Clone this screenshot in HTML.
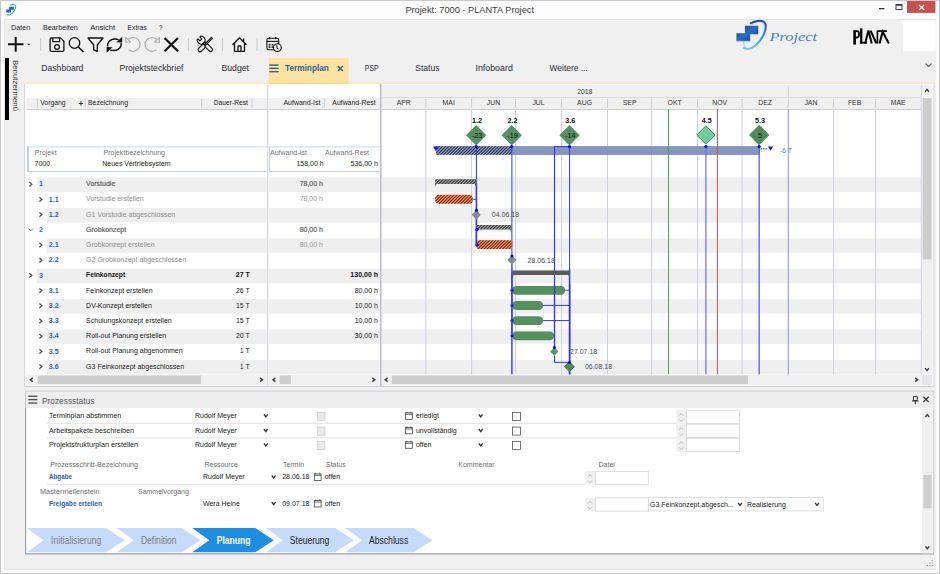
<!DOCTYPE html>
<html><head><meta charset="utf-8"><title>PLANTA Project</title>
<style>
html,body{margin:0;padding:0;background:#fcfcfc;}
body{width:940px;height:574px;overflow:hidden;}
svg{display:block;font-family:"Liberation Sans",sans-serif;}
</style></head>
<body>
<svg width="940" height="574" viewBox="0 0 940 574">
<defs>
<pattern id="hOr" patternUnits="userSpaceOnUse" width="2.0" height="2.0"><rect width="2.0" height="2.0" fill="#fb9062"/><path d="M0 2.0 L2.0 0 M-1 1 L1 -1 M1.0 3.0 L3.0 1.0" stroke="#6e3219" stroke-width="0.72"/></pattern>
<pattern id="hGr" patternUnits="userSpaceOnUse" width="2.25" height="2.25"><rect width="2.25" height="2.25" fill="#555555"/><path d="M0 2.25 L2.25 0 M-1 1 L1 -1 M1.25 3.25 L3.25 1.25" stroke="#cdcdcd" stroke-width="0.5"/></pattern>
<pattern id="hGl" patternUnits="userSpaceOnUse" width="2.25" height="2.25"><path d="M0 2.25 L2.25 0 M-1 1 L1 -1 M1.25 3.25 L3.25 1.25" stroke="#e9e9e9" stroke-width="0.5"/></pattern>
<pattern id="hBl" patternUnits="userSpaceOnUse" width="2.2" height="2.2"><rect width="2.2" height="2.2" fill="#8e9fc8"/><path d="M0 2.2 L2.2 0 M-1 1 L1 -1 M1.2000000000000002 3.2 L3.2 1.2000000000000002" stroke="#3a4258" stroke-width="0.8"/></pattern>
<linearGradient id="lgB" x1="0" y1="0" x2="1" y2="1"><stop offset="0" stop-color="#163a78"/><stop offset="0.5" stop-color="#2d6cc4"/><stop offset="1" stop-color="#143472"/></linearGradient>
<linearGradient id="ringG" x1="0" y1="0" x2="0" y2="1"><stop offset="0" stop-color="#1f4fa0"/><stop offset="0.55" stop-color="#2f8fe0"/><stop offset="1" stop-color="#5cd0f8"/></linearGradient>
</defs>
<rect x="0.00" y="0.00" width="940.00" height="574.00" fill="#fcfcfc" />
<rect x="0.5" y="0.5" width="939" height="573" fill="none" stroke="#c9c9c9" stroke-width="1"/>
<rect x="4.00" y="19.00" width="932.00" height="550.50" fill="#f0f0f0" />
<line x1="4.50" y1="19.00" x2="4.50" y2="569.50" stroke="#e2e2e2" stroke-width="1" />
<line x1="4.00" y1="19.40" x2="936.00" y2="19.40" stroke="#e1e1e1" stroke-width="0.9" />
<line x1="4.00" y1="569.50" x2="936.00" y2="569.50" stroke="#e2e2e2" stroke-width="1" />
<text x="405.40" y="12.90" font-size="9.8" fill="#404040" font-weight="normal" text-anchor="start" textLength="128.60" lengthAdjust="spacingAndGlyphs" >Projekt: 7000 - PLANTA Project</text>
<path d="M6.3 9.4 H9.1 V6.8 H13.8 V9.7 H11 V12.4 H6.3 Z" fill="#1565c8" stroke="none" stroke-width="1" />
<path d="M10.2 5.2 C12.6 3.9 15.4 4.1 15.7 6.3 C16 9 13.2 13.3 9.8 14.7 C8.6 15.2 7.8 15 7.4 14.2" fill="none" stroke="#3aa9ea" stroke-width="1.1" />
<rect x="879.00" y="8.00" width="5.40" height="1.30" fill="#333" />
<rect x="896" y="4.5" width="6" height="5" fill="none" stroke="#333" stroke-width="0.9"/>
<rect x="896.00" y="4.30" width="6.00" height="1.40" fill="#333" />
<rect x="907.00" y="1.00" width="28.40" height="11.90" fill="#c75050" />
<path d="M919 5 L924.2 9.9 M924.2 5 L919 9.9" fill="none" stroke="#fff" stroke-width="1.2" />
<rect x="896.00" y="20.00" width="39.50" height="31.00" fill="#ffffff" />
<path d="M880 19 L896 19 Q902 19 903 26 L903 52 L880 52 Z" fill="#f0f0f0" stroke="none" stroke-width="1" />
<text x="11.00" y="29.70" font-size="7.8" fill="#1e1e2e" font-weight="normal" text-anchor="start" textLength="19.20" lengthAdjust="spacingAndGlyphs" >Daten</text>
<text x="43.00" y="29.70" font-size="7.8" fill="#1e1e2e" font-weight="normal" text-anchor="start" textLength="34.80" lengthAdjust="spacingAndGlyphs" >Bearbeiten</text>
<text x="90.20" y="29.70" font-size="7.8" fill="#1e1e2e" font-weight="normal" text-anchor="start" textLength="24.90" lengthAdjust="spacingAndGlyphs" >Ansicht</text>
<text x="127.60" y="29.70" font-size="7.8" fill="#1e1e2e" font-weight="normal" text-anchor="start" textLength="19.00" lengthAdjust="spacingAndGlyphs" >Extras</text>
<text x="158.90" y="29.70" font-size="7.8" fill="#1e1e2e" font-weight="normal" text-anchor="start" textLength="3.50" lengthAdjust="spacingAndGlyphs" >?</text>
<path d="M8 44.3 H23.5 M15.7 37 V51.8" fill="none" stroke="#111" stroke-width="2" />
<path d="M27.3 43.8 h3.2 l-1.6 1.7 z" fill="#333" stroke="none" stroke-width="1" />
<line x1="40.70" y1="38.00" x2="40.70" y2="51.00" stroke="#c8c8c8" stroke-width="1" />
<path d="M51.5 37.9 h9 l3.4 3.4 v8.6 q0 1.4 -1.4 1.4 h-11 q-1.4 0 -1.4 -1.4 v-10.6 q0 -1.4 1.4 -1.4 z" fill="none" stroke="#111" stroke-width="1.3" stroke-linejoin="round"/>
<path d="M52.8 38 v3.6 h6.8 v-3.6" fill="none" stroke="#111" stroke-width="1.2" />
<circle cx="57" cy="47.1" r="2.4" fill="none" stroke="#111" stroke-width="1.25"/>
<circle cx="74.5" cy="43" r="5.3" fill="none" stroke="#111" stroke-width="1.3"/>
<path d="M78.3 47 L83.5 52" fill="none" stroke="#111" stroke-width="1.5" />
<path d="M88 38 H103 L97.3 45 V51.5 L93.7 49.8 V45 Z" fill="none" stroke="#111" stroke-width="1.3" stroke-linejoin="round"/>
<path d="M107.6 46.5 C107.2 41 112.5 37.5 118.6 39.6" fill="none" stroke="#111" stroke-width="1.4" />
<path d="M121.2 43 C121.6 48.5 116.3 52 110.2 49.9" fill="none" stroke="#111" stroke-width="1.4" />
<path d="M116.3 42.3 L122.2 36.8 L122.2 42.6 Z" fill="#111" stroke="none" stroke-width="1" />
<path d="M112.5 47.2 L106.6 52.7 L106.6 46.9 Z" fill="#111" stroke="none" stroke-width="1" />
<path d="M128.6 39.2 A6.9 6.9 0 1 1 128.6 49.6" fill="none" stroke="#a9a9a9" stroke-width="1.2" />
<path d="M125.6 37.4 L125.7 42.3 L130.5 42 Z" fill="none" stroke="#a9a9a9" stroke-width="1.1" stroke-linejoin="round"/>
<path d="M156.5 39.2 A6.9 6.9 0 1 0 156.5 49.6" fill="none" stroke="#a9a9a9" stroke-width="1.2" />
<path d="M159.5 37.4 L159.4 42.3 L154.6 42 Z" fill="none" stroke="#a9a9a9" stroke-width="1.1" stroke-linejoin="round"/>
<path d="M164.5 38 L178 51.3 M178 38 L164.5 51.3" fill="none" stroke="#111" stroke-width="2.2" />
<line x1="188.40" y1="38.00" x2="188.40" y2="51.00" stroke="#c8c8c8" stroke-width="1" />
<g transform="translate(205.4,44.4) rotate(-45)" fill="#f0f0f0" stroke="#111" stroke-width="1.1" stroke-linejoin="round"><rect x="-1.9" y="-2.5" width="3.8" height="11.8" rx="1.9"/><path d="M-1.9 -2.5 C-4.2 -3.4 -4.6 -7 -2.6 -9.2 L-1.3 -9.2 L-1.3 -6.4 L1.3 -6.4 L1.3 -9.2 L2.6 -9.2 C4.6 -7 4.2 -3.4 1.9 -2.5 Z"/></g>
<g transform="translate(205.4,44.4) rotate(45)" fill="#f0f0f0" stroke="#111" stroke-width="1.1" stroke-linejoin="round"><path d="M-0.7 -9.3 L0.7 -9.3 L0.7 0.5 L-0.7 0.5 Z"/><rect x="-2" y="1.2" width="4" height="8.3" rx="2"/></g>
<line x1="222.50" y1="38.00" x2="222.50" y2="51.00" stroke="#c8c8c8" stroke-width="1" />
<path d="M232.5 44.8 L239.5 37.8 L246.5 44.8 M234.5 43 V51.3 H244.5 V43 M238 51.3 V46.8 Q238 46 238.8 46 H240.2 Q241 46 241 46.8 V51.3 M243.6 41.8 V38.6" fill="none" stroke="#111" stroke-width="1.3" stroke-linejoin="round"/>
<line x1="257.00" y1="38.00" x2="257.00" y2="51.00" stroke="#c8c8c8" stroke-width="1" />
<rect x="266.9" y="38.3" width="11.8" height="11.4" rx="1.6" fill="none" stroke="#111" stroke-width="1.1"/>
<line x1="266.90" y1="41.40" x2="278.70" y2="41.40" stroke="#111" stroke-width="1.1" />
<path d="M269.6 36.9 v2.4 M275.6 36.9 v2.4" fill="none" stroke="#111" stroke-width="1.2" />
<rect x="268.60" y="43.90" width="1.90" height="1.70" fill="#333" />
<rect x="268.60" y="46.30" width="1.90" height="1.70" fill="#333" />
<rect x="271.60" y="43.90" width="1.90" height="1.70" fill="#333" />
<rect x="271.60" y="46.30" width="1.90" height="1.70" fill="#333" />
<circle cx="277.4" cy="47.6" r="3.9" fill="#f0f0f0" stroke="#111" stroke-width="1.1"/>
<path d="M276.9 45.2 V48.2 L278.7 49.1" fill="none" stroke="#111" stroke-width="1.0" />
<ellipse cx="754" cy="35.3" rx="8.3" ry="15.2" transform="rotate(30 754 35.3)" fill="none" stroke="#a9bcd2" stroke-width="0.7"/>
<path d="M750 23.8 C754 21 761 19.6 764.3 22.3 C767.6 25.3 765.2 34.5 759.6 41.2 C755 46.8 748.5 51 743.2 47.6" fill="none" stroke="url(#ringG)" stroke-width="2"/>
<path d="M736.4 33.3 H744.9 V25.8 H758.3 V34.2 H750.2 V41.2 H736.4 Z" fill="url(#lgB)" stroke="none" stroke-width="1" />
<path d="M737.2 41.2 H750.2 M750.8 34.4 H758.3" fill="none" stroke="#aac4e4" stroke-width="0.8" />
<text x="769.40" y="41.20" font-size="11.8" fill="#4a80c6" font-weight="normal" text-anchor="start" textLength="47.80" lengthAdjust="spacingAndGlyphs" font-style="italic" font-family="Liberation Serif">Project</text>
<g fill="none" stroke="#000" stroke-linejoin="miter"><path d="M854.6 30.2 V44.6" stroke-width="2.6"/><path d="M855.5 31.1 H857.2 Q859 31.1 859 34.3 Q859 37.5 857.2 37.5 H855.5" stroke-width="1.8"/><path d="M861.2 28.4 V43.4" stroke-width="2.3"/><path d="M860.1 42.7 H867" stroke-width="1.8"/><path d="M865.2 43.6 L868.4 30.6 L871.8 43.6" stroke-width="2"/><path d="M870.6 30.6 L876.3 43.4" stroke-width="2"/><path d="M877.4 30.6 V43.6" stroke-width="1.6"/><path d="M877.6 31.1 H887" stroke-width="1.7"/><path d="M879.6 43.6 L882.6 31.8 L888.9 43.5" stroke-width="2"/></g>
<path d="M925.8 63.6 L928.7 66.5 L931.6 63.6" fill="none" stroke="#555" stroke-width="1.1" />
<rect x="5.00" y="58.00" width="4.00" height="62.00" fill="#000" />
<text font-size="7.2" fill="#333" transform="translate(12.6,60) rotate(90)" textLength="51" lengthAdjust="spacingAndGlyphs">Benutzermenü</text>
<text x="41.30" y="70.60" font-size="8.6" fill="#2b2b35" font-weight="normal" text-anchor="start" textLength="42.10" lengthAdjust="spacingAndGlyphs" >Dashboard</text>
<text x="119.40" y="70.60" font-size="8.6" fill="#2b2b35" font-weight="normal" text-anchor="start" textLength="64.00" lengthAdjust="spacingAndGlyphs" >Projektsteckbrief</text>
<text x="221.50" y="70.60" font-size="8.6" fill="#2b2b35" font-weight="normal" text-anchor="start" textLength="27.50" lengthAdjust="spacingAndGlyphs" >Budget</text>
<text x="364.80" y="70.60" font-size="8.6" fill="#2b2b35" font-weight="normal" text-anchor="start" textLength="13.90" lengthAdjust="spacingAndGlyphs" >PSP</text>
<text x="415.30" y="70.60" font-size="8.6" fill="#2b2b35" font-weight="normal" text-anchor="start" textLength="24.10" lengthAdjust="spacingAndGlyphs" >Status</text>
<text x="475.50" y="70.60" font-size="8.6" fill="#2b2b35" font-weight="normal" text-anchor="start" textLength="37.30" lengthAdjust="spacingAndGlyphs" >Infoboard</text>
<text x="549.60" y="70.60" font-size="8.6" fill="#2b2b35" font-weight="normal" text-anchor="start" textLength="38.10" lengthAdjust="spacingAndGlyphs" >Weitere ...</text>
<rect x="25.00" y="82.20" width="909.50" height="1.80" fill="#fdebbf" />
<rect x="268.70" y="58.00" width="80.00" height="26.00" fill="#fde3a1" />
<rect x="268.70" y="82.20" width="80.00" height="1.80" fill="#fdd983" />
<rect x="269.30" y="64.40" width="9.30" height="1.40" fill="#2d5f93" />
<rect x="269.30" y="67.70" width="9.30" height="1.40" fill="#2d5f93" />
<rect x="269.30" y="71.00" width="9.30" height="1.40" fill="#2d5f93" />
<text x="285.00" y="70.60" font-size="8.6" fill="#2d5f93" font-weight="bold" text-anchor="start" textLength="43.90" lengthAdjust="spacingAndGlyphs" >Terminplan</text>
<path d="M337.8 66.1 L342.8 71.1 M342.8 66.1 L337.8 71.1" fill="none" stroke="#2d5f93" stroke-width="1.4" />
<rect x="25.00" y="84.00" width="909.00" height="302.50" fill="#ffffff" />
<line x1="24.50" y1="84.00" x2="24.50" y2="386.50" stroke="#d6d6de" stroke-width="1" />
<line x1="933.80" y1="84.00" x2="933.80" y2="386.50" stroke="#d6d6de" stroke-width="1" />
<line x1="24.50" y1="386.50" x2="934.00" y2="386.50" stroke="#c9c9d0" stroke-width="1" />
<rect x="26.50" y="98.00" width="240.50" height="11.50" fill="#f0f0f0" />
<line x1="26.50" y1="109.50" x2="267.00" y2="109.50" stroke="#cfcfcf" stroke-width="1" />
<line x1="37.40" y1="99.00" x2="37.40" y2="107.50" stroke="#c8c8c8" stroke-width="0.9" />
<line x1="85.30" y1="99.00" x2="85.30" y2="107.50" stroke="#c8c8c8" stroke-width="0.9" />
<line x1="201.60" y1="99.00" x2="201.60" y2="107.50" stroke="#c8c8c8" stroke-width="0.9" />
<line x1="252.00" y1="99.00" x2="252.00" y2="107.50" stroke="#c8c8c8" stroke-width="0.9" />
<text x="40.20" y="105.20" font-size="7" fill="#222" font-weight="normal" text-anchor="start" textLength="25.50" lengthAdjust="spacingAndGlyphs" >Vorgang</text>
<path d="M78.8 103.5 h4.3 M80.95 101.35 v4.3" fill="none" stroke="#333" stroke-width="1" />
<text x="88.00" y="105.20" font-size="7" fill="#222" font-weight="normal" text-anchor="start" textLength="40.00" lengthAdjust="spacingAndGlyphs" >Bezeichnung</text>
<text x="213.70" y="105.20" font-size="7" fill="#222" font-weight="normal" text-anchor="start" textLength="34.30" lengthAdjust="spacingAndGlyphs" >Dauer-Rest</text>
<rect x="268.50" y="98.00" width="111.00" height="11.50" fill="#f0f0f0" />
<line x1="268.50" y1="109.50" x2="379.50" y2="109.50" stroke="#cfcfcf" stroke-width="1" />
<line x1="324.40" y1="99.00" x2="324.40" y2="107.50" stroke="#c8c8c8" stroke-width="0.9" />
<text x="283.40" y="105.20" font-size="7" fill="#222" font-weight="normal" text-anchor="start" textLength="37.00" lengthAdjust="spacingAndGlyphs" >Aufwand-Ist</text>
<text x="332.30" y="105.20" font-size="7" fill="#222" font-weight="normal" text-anchor="start" textLength="43.30" lengthAdjust="spacingAndGlyphs" >Aufwand-Rest</text>
<rect x="381.60" y="84.80" width="539.40" height="24.70" fill="#f0f0f0" />
<line x1="382.00" y1="97.60" x2="921.00" y2="97.60" stroke="#d8d8d8" stroke-width="0.9" />
<line x1="381.60" y1="109.50" x2="921.00" y2="109.50" stroke="#cfcfcf" stroke-width="1" />
<text x="584.80" y="93.80" font-size="6.9" fill="#333" font-weight="normal" text-anchor="middle" >2018</text>
<line x1="788.30" y1="86.00" x2="788.30" y2="97.00" stroke="#c8c8c8" stroke-width="0.9" />
<text x="403.75" y="105.20" font-size="6.9" fill="#333" font-weight="normal" text-anchor="middle" >APR</text>
<text x="448.75" y="105.20" font-size="6.9" fill="#333" font-weight="normal" text-anchor="middle" >MAI</text>
<text x="493.55" y="105.20" font-size="6.9" fill="#333" font-weight="normal" text-anchor="middle" >JUN</text>
<text x="538.55" y="105.20" font-size="6.9" fill="#333" font-weight="normal" text-anchor="middle" >JUL</text>
<text x="584.55" y="105.20" font-size="6.9" fill="#333" font-weight="normal" text-anchor="middle" >AUG</text>
<text x="629.65" y="105.20" font-size="6.9" fill="#333" font-weight="normal" text-anchor="middle" >SEP</text>
<text x="674.65" y="105.20" font-size="6.9" fill="#333" font-weight="normal" text-anchor="middle" >OKT</text>
<text x="719.75" y="105.20" font-size="6.9" fill="#333" font-weight="normal" text-anchor="middle" >NOV</text>
<text x="765.15" y="105.20" font-size="6.9" fill="#333" font-weight="normal" text-anchor="middle" >DEZ</text>
<text x="810.95" y="105.20" font-size="6.9" fill="#333" font-weight="normal" text-anchor="middle" >JAN</text>
<text x="854.60" y="105.20" font-size="6.9" fill="#333" font-weight="normal" text-anchor="middle" >FEB</text>
<text x="898.20" y="105.20" font-size="6.9" fill="#333" font-weight="normal" text-anchor="middle" >MAE</text>
<line x1="425.90" y1="99.00" x2="425.90" y2="107.80" stroke="#c6c6c6" stroke-width="0.9" />
<line x1="471.60" y1="99.00" x2="471.60" y2="107.80" stroke="#c6c6c6" stroke-width="0.9" />
<line x1="515.50" y1="99.00" x2="515.50" y2="107.80" stroke="#c6c6c6" stroke-width="0.9" />
<line x1="561.60" y1="99.00" x2="561.60" y2="107.80" stroke="#c6c6c6" stroke-width="0.9" />
<line x1="607.50" y1="99.00" x2="607.50" y2="107.80" stroke="#c6c6c6" stroke-width="0.9" />
<line x1="651.80" y1="99.00" x2="651.80" y2="107.80" stroke="#c6c6c6" stroke-width="0.9" />
<line x1="697.50" y1="99.00" x2="697.50" y2="107.80" stroke="#c6c6c6" stroke-width="0.9" />
<line x1="742.00" y1="99.00" x2="742.00" y2="107.80" stroke="#c6c6c6" stroke-width="0.9" />
<line x1="788.30" y1="99.00" x2="788.30" y2="107.80" stroke="#c6c6c6" stroke-width="0.9" />
<line x1="833.60" y1="99.00" x2="833.60" y2="107.80" stroke="#c6c6c6" stroke-width="0.9" />
<line x1="875.60" y1="99.00" x2="875.60" y2="107.80" stroke="#c6c6c6" stroke-width="0.9" />
<rect x="267.00" y="85.00" width="1.40" height="301.00" fill="#e0d8e5" />
<rect x="379.80" y="84.00" width="1.80" height="302.00" fill="#c3bcd3" />
<rect x="36.80" y="177.50" width="230.20" height="14.60" fill="#efefef" />
<rect x="268.40" y="177.50" width="111.60" height="14.60" fill="#efefef" />
<rect x="382.00" y="177.50" width="539.00" height="14.60" fill="#efefef" />
<path d="M29.3 182.0 L31.8 184.2 L29.3 186.39999999999998" fill="none" stroke="#505050" stroke-width="1.3" />
<text x="39.00" y="186.40" font-size="7.1" fill="#2a68c0" font-weight="bold" text-anchor="start" >1</text>
<text x="86.10" y="186.20" font-size="7" fill="#666666" font-weight="normal" text-anchor="start" stroke="#666666" stroke-width="0.22">Vorstudie</text>
<text x="323.00" y="186.20" font-size="7" fill="#6a6a6a" font-weight="normal" text-anchor="end" stroke="#6a6a6a" stroke-width="0.22">78,00 h</text>
<path d="M39.4 197.2 L41.9 199.39999999999998 L39.4 201.59999999999997" fill="none" stroke="#505050" stroke-width="1.3" />
<text x="48.80" y="201.60" font-size="7.1" fill="#2a68c0" font-weight="bold" text-anchor="start" >1.1</text>
<text x="86.10" y="201.40" font-size="7" fill="#8c8c8c" font-weight="normal" text-anchor="start" >Vorstudie erstellen</text>
<text x="323.00" y="201.40" font-size="7" fill="#9a9a9a" font-weight="normal" text-anchor="end" >78,00 h</text>
<rect x="46.80" y="207.90" width="220.20" height="14.60" fill="#efefef" />
<rect x="268.40" y="207.90" width="111.60" height="14.60" fill="#efefef" />
<rect x="382.00" y="207.90" width="539.00" height="14.60" fill="#efefef" />
<path d="M39.4 212.4 L41.9 214.6 L39.4 216.79999999999998" fill="none" stroke="#505050" stroke-width="1.3" />
<text x="48.80" y="216.80" font-size="7.1" fill="#2a68c0" font-weight="bold" text-anchor="start" >1.2</text>
<text x="86.10" y="216.60" font-size="7" fill="#8c8c8c" font-weight="normal" text-anchor="start" >G1 Vorstudie abgeschlossen</text>
<path d="M28.6 228.6 L30.8 230.79999999999998 L33.0 228.6" fill="none" stroke="#777" stroke-width="1" />
<text x="39.00" y="232.00" font-size="7.1" fill="#2a68c0" font-weight="bold" text-anchor="start" >2</text>
<text x="86.10" y="231.80" font-size="7" fill="#666666" font-weight="normal" text-anchor="start" stroke="#666666" stroke-width="0.22">Grobkonzept</text>
<text x="323.00" y="231.80" font-size="7" fill="#6a6a6a" font-weight="normal" text-anchor="end" stroke="#6a6a6a" stroke-width="0.22">80,00 h</text>
<rect x="46.80" y="238.30" width="220.20" height="14.60" fill="#efefef" />
<rect x="268.40" y="238.30" width="111.60" height="14.60" fill="#efefef" />
<rect x="382.00" y="238.30" width="539.00" height="14.60" fill="#efefef" />
<path d="M39.4 242.8 L41.9 245.0 L39.4 247.2" fill="none" stroke="#505050" stroke-width="1.3" />
<text x="48.80" y="247.20" font-size="7.1" fill="#2a68c0" font-weight="bold" text-anchor="start" >2.1</text>
<text x="86.10" y="247.00" font-size="7" fill="#8c8c8c" font-weight="normal" text-anchor="start" >Grobkonzept erstellen</text>
<text x="323.00" y="247.00" font-size="7" fill="#9a9a9a" font-weight="normal" text-anchor="end" >80,00 h</text>
<path d="M39.4 258.0 L41.9 260.2 L39.4 262.4" fill="none" stroke="#505050" stroke-width="1.3" />
<text x="48.80" y="262.40" font-size="7.1" fill="#2a68c0" font-weight="bold" text-anchor="start" >2.2</text>
<text x="86.10" y="262.20" font-size="7" fill="#8c8c8c" font-weight="normal" text-anchor="start" >G2 Grobkonzept abgeschlossen</text>
<rect x="36.80" y="268.70" width="230.20" height="14.60" fill="#efefef" />
<rect x="268.40" y="268.70" width="111.60" height="14.60" fill="#efefef" />
<rect x="382.00" y="268.70" width="539.00" height="14.60" fill="#efefef" />
<path d="M29.3 273.2 L31.8 275.4 L29.3 277.59999999999997" fill="none" stroke="#505050" stroke-width="1.3" />
<text x="39.00" y="277.60" font-size="7.1" fill="#2a68c0" font-weight="bold" text-anchor="start" >3</text>
<text x="86.10" y="277.40" font-size="6.7" fill="#111" font-weight="bold" text-anchor="start" >Feinkonzept</text>
<text x="249.80" y="277.40" font-size="7" fill="#111" font-weight="bold" text-anchor="end" >27 T</text>
<text x="378.00" y="277.40" font-size="7" fill="#111" font-weight="bold" text-anchor="end" >130,00 h</text>
<path d="M39.4 288.4 L41.9 290.59999999999997 L39.4 292.79999999999995" fill="none" stroke="#505050" stroke-width="1.3" />
<text x="48.80" y="292.80" font-size="7.1" fill="#2a68c0" font-weight="bold" text-anchor="start" >3.1</text>
<text x="86.10" y="292.60" font-size="7" fill="#222" font-weight="normal" text-anchor="start" >Feinkonzept erstellen</text>
<text x="249.80" y="292.60" font-size="7" fill="#222" font-weight="normal" text-anchor="end" >26 T</text>
<text x="378.00" y="292.60" font-size="7" fill="#222" font-weight="normal" text-anchor="end" >80,00 h</text>
<rect x="46.80" y="299.10" width="220.20" height="14.60" fill="#efefef" />
<rect x="268.40" y="299.10" width="111.60" height="14.60" fill="#efefef" />
<rect x="382.00" y="299.10" width="539.00" height="14.60" fill="#efefef" />
<path d="M39.4 303.6 L41.9 305.8 L39.4 308.0" fill="none" stroke="#505050" stroke-width="1.3" />
<text x="48.80" y="308.00" font-size="7.1" fill="#2a68c0" font-weight="bold" text-anchor="start" >3.2</text>
<text x="86.10" y="307.80" font-size="7" fill="#222" font-weight="normal" text-anchor="start" >DV-Konzept erstellen</text>
<text x="249.80" y="307.80" font-size="7" fill="#222" font-weight="normal" text-anchor="end" >15 T</text>
<text x="378.00" y="307.80" font-size="7" fill="#222" font-weight="normal" text-anchor="end" >10,00 h</text>
<path d="M39.4 318.79999999999995 L41.9 320.99999999999994 L39.4 323.19999999999993" fill="none" stroke="#505050" stroke-width="1.3" />
<text x="48.80" y="323.20" font-size="7.1" fill="#2a68c0" font-weight="bold" text-anchor="start" >3.3</text>
<text x="86.10" y="323.00" font-size="7" fill="#222" font-weight="normal" text-anchor="start" >Schulungskonzept erstellen</text>
<text x="249.80" y="323.00" font-size="7" fill="#222" font-weight="normal" text-anchor="end" >15 T</text>
<text x="378.00" y="323.00" font-size="7" fill="#222" font-weight="normal" text-anchor="end" >10,00 h</text>
<rect x="46.80" y="329.50" width="220.20" height="14.60" fill="#efefef" />
<rect x="268.40" y="329.50" width="111.60" height="14.60" fill="#efefef" />
<rect x="382.00" y="329.50" width="539.00" height="14.60" fill="#efefef" />
<path d="M39.4 334.0 L41.9 336.2 L39.4 338.4" fill="none" stroke="#505050" stroke-width="1.3" />
<text x="48.80" y="338.40" font-size="7.1" fill="#2a68c0" font-weight="bold" text-anchor="start" >3.4</text>
<text x="86.10" y="338.20" font-size="7" fill="#222" font-weight="normal" text-anchor="start" >Roll-out Planung erstellen</text>
<text x="249.80" y="338.20" font-size="7" fill="#222" font-weight="normal" text-anchor="end" >20 T</text>
<text x="378.00" y="338.20" font-size="7" fill="#222" font-weight="normal" text-anchor="end" >30,00 h</text>
<path d="M39.4 349.2 L41.9 351.4 L39.4 353.59999999999997" fill="none" stroke="#505050" stroke-width="1.3" />
<text x="48.80" y="353.60" font-size="7.1" fill="#2a68c0" font-weight="bold" text-anchor="start" >3.5</text>
<text x="86.10" y="353.40" font-size="7" fill="#222" font-weight="normal" text-anchor="start" >Roll-out Planung abgenommen</text>
<text x="249.80" y="353.40" font-size="7" fill="#222" font-weight="normal" text-anchor="end" >1 T</text>
<rect x="46.80" y="359.90" width="220.20" height="14.60" fill="#efefef" />
<rect x="268.40" y="359.90" width="111.60" height="14.60" fill="#efefef" />
<rect x="382.00" y="359.90" width="539.00" height="14.60" fill="#efefef" />
<path d="M39.4 364.4 L41.9 366.59999999999997 L39.4 368.79999999999995" fill="none" stroke="#505050" stroke-width="1.3" />
<text x="48.80" y="368.80" font-size="7.1" fill="#2a68c0" font-weight="bold" text-anchor="start" >3.6</text>
<text x="86.10" y="368.60" font-size="7" fill="#222" font-weight="normal" text-anchor="start" >G3 Feinkonzept abgeschlossen</text>
<text x="249.80" y="368.60" font-size="7" fill="#222" font-weight="normal" text-anchor="end" >1 T</text>
<line x1="27.00" y1="146.90" x2="267.00" y2="146.90" stroke="#c5d6f3" stroke-width="1" />
<line x1="27.00" y1="171.50" x2="267.00" y2="171.50" stroke="#c5d6f3" stroke-width="1" />
<rect x="27.00" y="146.40" width="2.00" height="25.60" fill="#bcd0f2" />
<text x="34.80" y="154.80" font-size="7" fill="#777" font-weight="normal" text-anchor="start" >Projekt</text>
<text x="103.50" y="154.80" font-size="7" fill="#777" font-weight="normal" text-anchor="start" >Projektbezeichnung</text>
<text x="34.50" y="165.80" font-size="7" fill="#222" font-weight="normal" text-anchor="start" >7000</text>
<text x="102.20" y="165.80" font-size="7" fill="#222" font-weight="normal" text-anchor="start" >Neues Vertriebsystem</text>
<path d="M379.8 146.9 H269.5 V171.5 H379.8" fill="none" stroke="#c5d6f3" stroke-width="1" />
<text x="270.00" y="154.80" font-size="7" fill="#777" font-weight="normal" text-anchor="start" textLength="37.00" lengthAdjust="spacingAndGlyphs" >Aufwand-Ist</text>
<text x="325.00" y="154.80" font-size="7" fill="#777" font-weight="normal" text-anchor="start" textLength="44.00" lengthAdjust="spacingAndGlyphs" >Aufwand-Rest</text>
<text x="323.70" y="165.80" font-size="7" fill="#222" font-weight="normal" text-anchor="end" >158,00 h</text>
<text x="377.80" y="165.80" font-size="7" fill="#222" font-weight="normal" text-anchor="end" >536,00 h</text>
<line x1="425.90" y1="109.00" x2="425.90" y2="374.50" stroke="#cad1e3" stroke-width="1" />
<line x1="471.60" y1="109.00" x2="471.60" y2="374.50" stroke="#cad1e3" stroke-width="1" />
<line x1="515.50" y1="109.00" x2="515.50" y2="374.50" stroke="#cad1e3" stroke-width="1" />
<line x1="561.60" y1="109.00" x2="561.60" y2="374.50" stroke="#cad1e3" stroke-width="1" />
<line x1="607.50" y1="109.00" x2="607.50" y2="374.50" stroke="#cad1e3" stroke-width="1" />
<line x1="651.80" y1="109.00" x2="651.80" y2="374.50" stroke="#cad1e3" stroke-width="1" />
<line x1="697.50" y1="109.00" x2="697.50" y2="374.50" stroke="#cad1e3" stroke-width="1" />
<line x1="742.00" y1="109.00" x2="742.00" y2="374.50" stroke="#cad1e3" stroke-width="1" />
<line x1="788.30" y1="109.00" x2="788.30" y2="374.50" stroke="#8d96ba" stroke-width="1" />
<line x1="833.60" y1="109.00" x2="833.60" y2="374.50" stroke="#cad1e3" stroke-width="1" />
<line x1="875.60" y1="109.00" x2="875.60" y2="374.50" stroke="#cad1e3" stroke-width="1" />
<line x1="921.30" y1="84.50" x2="921.30" y2="374.50" stroke="#c9d0e2" stroke-width="1" />
<rect x="436.00" y="146.30" width="323.80" height="8.50" fill="#8597bf" />
<line x1="436.00" y1="146.60" x2="759.80" y2="146.60" stroke="#7789b3" stroke-width="0.6" />
<line x1="436.00" y1="154.50" x2="759.80" y2="154.50" stroke="#7789b3" stroke-width="0.6" />
<clipPath id="hc1"><path d="M436.00 146.30 h75.70 v8.40 h-75.70 Z"/></clipPath>
<path d="M436.00 146.30 h75.70 v8.40 h-75.70 Z" fill="#93a4cc" stroke="none" stroke-width="1" />
<g clip-path="url(#hc1)"><path d="M424.50 155.20 L433.90 145.80 M427.60 155.20 L437.00 145.80 M430.70 155.20 L440.10 145.80 M433.80 155.20 L443.20 145.80 M436.90 155.20 L446.30 145.80 M440.00 155.20 L449.40 145.80 M443.10 155.20 L452.50 145.80 M446.20 155.20 L455.60 145.80 M449.30 155.20 L458.70 145.80 M452.40 155.20 L461.80 145.80 M455.50 155.20 L464.90 145.80 M458.60 155.20 L468.00 145.80 M461.70 155.20 L471.10 145.80 M464.80 155.20 L474.20 145.80 M467.90 155.20 L477.30 145.80 M471.00 155.20 L480.40 145.80 M474.10 155.20 L483.50 145.80 M477.20 155.20 L486.60 145.80 M480.30 155.20 L489.70 145.80 M483.40 155.20 L492.80 145.80 M486.50 155.20 L495.90 145.80 M489.60 155.20 L499.00 145.80 M492.70 155.20 L502.10 145.80 M495.80 155.20 L505.20 145.80 M498.90 155.20 L508.30 145.80 M502.00 155.20 L511.40 145.80 M505.10 155.20 L514.50 145.80 M508.20 155.20 L517.60 145.80 M511.30 155.20 L520.70 145.80 M514.40 155.20 L523.80 145.80" stroke="#343c52" stroke-width="1.15" fill="none"/></g>
<path d="M433 146.5 h5.3 l-2.65 4.5 z" fill="#1a1aff" stroke="none" stroke-width="1" />
<path d="M760.5 148.8 h7.5" fill="none" stroke="#3f8f4f" stroke-width="1.6" stroke-dasharray="1.6 0.9"/>
<path d="M768 146.5 h5.2 l-2.6 4.3 z" fill="#1a1aff" stroke="none" stroke-width="1" />
<text x="780.00" y="153.30" font-size="7.5" fill="#3f8d9f" font-weight="normal" text-anchor="start" textLength="11.70" lengthAdjust="spacingAndGlyphs" >-6 T</text>
<line x1="668.50" y1="109.00" x2="668.50" y2="374.50" stroke="#4fa84f" stroke-width="1" />
<line x1="717.40" y1="109.00" x2="717.40" y2="374.50" stroke="#c05555" stroke-width="1" />
<line x1="705.90" y1="146.60" x2="705.90" y2="374.50" stroke="#6b6bff" stroke-width="1.2" />
<line x1="759.20" y1="146.60" x2="759.20" y2="374.50" stroke="#5a5aff" stroke-width="1.3" />
<path d="M476.2 124.99999999999999 L486.4 135.2 L476.2 145.39999999999998 L466.0 135.2 Z" fill="#558f62" stroke="none" stroke-width="0" />
<text x="477.00" y="122.50" font-size="7.2" fill="#111" font-weight="bold" text-anchor="middle" >1.2</text>
<text x="477.00" y="137.90" font-size="7.2" fill="#0c140c" font-weight="normal" text-anchor="middle" >-23</text>
<path d="M511.7 124.99999999999999 L521.9 135.2 L511.7 145.39999999999998 L501.5 135.2 Z" fill="#558f62" stroke="none" stroke-width="0" />
<text x="512.50" y="122.50" font-size="7.2" fill="#111" font-weight="bold" text-anchor="middle" >2.2</text>
<text x="512.50" y="137.90" font-size="7.2" fill="#0c140c" font-weight="normal" text-anchor="middle" >-19</text>
<path d="M569.5 124.99999999999999 L579.7 135.2 L569.5 145.39999999999998 L559.3 135.2 Z" fill="#558f62" stroke="none" stroke-width="0" />
<text x="570.30" y="122.50" font-size="7.2" fill="#111" font-weight="bold" text-anchor="middle" >3.6</text>
<text x="570.30" y="137.90" font-size="7.2" fill="#0c140c" font-weight="normal" text-anchor="middle" >-14</text>
<path d="M705.9 125.8 L715.1 135 L705.9 144.2 L696.6999999999999 135 Z" fill="#71cc9a" stroke="#3b8a55" stroke-width="1" />
<text x="706.70" y="122.50" font-size="7.2" fill="#111" font-weight="bold" text-anchor="middle" >4.5</text>
<path d="M759.2 124.8 L769.4000000000001 135 L759.2 145.2 L749.0 135 Z" fill="#4e8a5a" stroke="none" stroke-width="0" />
<text x="760.00" y="122.50" font-size="7.2" fill="#111" font-weight="bold" text-anchor="middle" >5.3</text>
<text x="760.00" y="137.90" font-size="7.2" fill="#0c140c" font-weight="normal" text-anchor="middle" >5</text>
<line x1="476.40" y1="146.50" x2="476.40" y2="184.00" stroke="#3535f5" stroke-width="1.0" />
<line x1="476.40" y1="184.00" x2="476.40" y2="245.30" stroke="#3535f5" stroke-width="1.6" />
<line x1="511.90" y1="146.50" x2="511.90" y2="255.00" stroke="#3535f5" stroke-width="1.0" />
<line x1="511.90" y1="255.00" x2="511.90" y2="374.50" stroke="#3535f5" stroke-width="1.4" />
<line x1="554.50" y1="146.60" x2="554.50" y2="351.00" stroke="#3535f5" stroke-width="1.2" />
<line x1="569.60" y1="146.60" x2="569.60" y2="270.00" stroke="#3535f5" stroke-width="1.0" />
<line x1="569.60" y1="270.00" x2="569.60" y2="374.50" stroke="#3535f5" stroke-width="1.5" />
<line x1="554.50" y1="146.60" x2="569.60" y2="146.60" stroke="#3535f5" stroke-width="1" />
<circle cx="476.3" cy="146.6" r="1.6" fill="#0000ee"/>
<circle cx="511.7" cy="146.6" r="1.6" fill="#0000ee"/>
<circle cx="569.5" cy="146.6" r="1.6" fill="#0000ee"/>
<circle cx="705.9" cy="146.6" r="1.6" fill="#0000ee"/>
<circle cx="759.2" cy="146.6" r="1.6" fill="#0000ee"/>
<clipPath id="hc2"><path d="M436.50 184.30 h38.50 v6.50 h-38.50 Z"/></clipPath>
<g clip-path="url(#hc2)"><path d="M426.90 191.30 L434.40 183.80 M430.00 191.30 L437.50 183.80 M433.10 191.30 L440.60 183.80 M436.20 191.30 L443.70 183.80 M439.30 191.30 L446.80 183.80 M442.40 191.30 L449.90 183.80 M445.50 191.30 L453.00 183.80 M448.60 191.30 L456.10 183.80 M451.70 191.30 L459.20 183.80 M454.80 191.30 L462.30 183.80 M457.90 191.30 L465.40 183.80 M461.00 191.30 L468.50 183.80 M464.10 191.30 L471.60 183.80 M467.20 191.30 L474.70 183.80 M470.30 191.30 L477.80 183.80 M473.40 191.30 L480.90 183.80 M476.50 191.30 L484.00 183.80" stroke="#f0f0f0" stroke-width="0.7" fill="none"/></g>
<clipPath id="hc3"><path d="M435.2 179.30 H476.2 V187.30 L474.80 183.90 H436.60 L435.2 187.30 Z"/></clipPath>
<path d="M435.2 179.30 H476.2 V187.30 L474.80 183.90 H436.60 L435.2 187.30 Z" fill="#505050" stroke="none" stroke-width="1" />
<g clip-path="url(#hc3)"><path d="M424.10 187.80 L433.10 178.80 M427.20 187.80 L436.20 178.80 M430.30 187.80 L439.30 178.80 M433.40 187.80 L442.40 178.80 M436.50 187.80 L445.50 178.80 M439.60 187.80 L448.60 178.80 M442.70 187.80 L451.70 178.80 M445.80 187.80 L454.80 178.80 M448.90 187.80 L457.90 178.80 M452.00 187.80 L461.00 178.80 M455.10 187.80 L464.10 178.80 M458.20 187.80 L467.20 178.80 M461.30 187.80 L470.30 178.80 M464.40 187.80 L473.40 178.80 M467.50 187.80 L476.50 178.80 M470.60 187.80 L479.60 178.80 M473.70 187.80 L482.70 178.80 M476.80 187.80 L485.80 178.80" stroke="#c4c4c4" stroke-width="0.8" fill="none"/></g>
<clipPath id="hc4"><path d="M438.70 194.70 H469.20 A3.5 3.5 0 0 1 472.70 198.20 V200.20 A3.5 3.5 0 0 1 469.20 203.70 H438.70 A3.5 3.5 0 0 1 435.20 200.20 V198.20 A3.5 3.5 0 0 1 438.70 194.70 Z"/></clipPath>
<path d="M438.70 194.70 H469.20 A3.5 3.5 0 0 1 472.70 198.20 V200.20 A3.5 3.5 0 0 1 469.20 203.70 H438.70 A3.5 3.5 0 0 1 435.20 200.20 V198.20 A3.5 3.5 0 0 1 438.70 194.70 Z" fill="#fd9466" stroke="none" stroke-width="1" />
<g clip-path="url(#hc4)"><path d="M423.10 204.20 L433.10 194.20 M426.20 204.20 L436.20 194.20 M429.30 204.20 L439.30 194.20 M432.40 204.20 L442.40 194.20 M435.50 204.20 L445.50 194.20 M438.60 204.20 L448.60 194.20 M441.70 204.20 L451.70 194.20 M444.80 204.20 L454.80 194.20 M447.90 204.20 L457.90 194.20 M451.00 204.20 L461.00 194.20 M454.10 204.20 L464.10 194.20 M457.20 204.20 L467.20 194.20 M460.30 204.20 L470.30 194.20 M463.40 204.20 L473.40 194.20 M466.50 204.20 L476.50 194.20 M469.60 204.20 L479.60 194.20 M472.70 204.20 L482.70 194.20" stroke="#6e3019" stroke-width="1.1" fill="none"/></g>
<line x1="472.70" y1="199.30" x2="476.40" y2="199.30" stroke="#3535f5" stroke-width="1" />
<path d="M476.3 210.20000000000002 L480.90000000000003 214.8 L476.3 219.4 L471.7 214.8 Z" fill="#8a8a8a" stroke="none" stroke-width="0" />
<text x="491.80" y="217.20" font-size="7" fill="#4a4f5a" font-weight="normal" text-anchor="start" >04.06.18</text>
<circle cx="476.5" cy="210.40" r="1.6" fill="#0000ee"/>
<clipPath id="hc5"><path d="M478.00 229.90 h32.00 v6.50 h-32.00 Z"/></clipPath>
<g clip-path="url(#hc5)"><path d="M468.40 236.90 L475.90 229.40 M471.50 236.90 L479.00 229.40 M474.60 236.90 L482.10 229.40 M477.70 236.90 L485.20 229.40 M480.80 236.90 L488.30 229.40 M483.90 236.90 L491.40 229.40 M487.00 236.90 L494.50 229.40 M490.10 236.90 L497.60 229.40 M493.20 236.90 L500.70 229.40 M496.30 236.90 L503.80 229.40 M499.40 236.90 L506.90 229.40 M502.50 236.90 L510.00 229.40 M505.60 236.90 L513.10 229.40 M508.70 236.90 L516.20 229.40 M511.80 236.90 L519.30 229.40" stroke="#f0f0f0" stroke-width="0.7" fill="none"/></g>
<clipPath id="hc6"><path d="M476.7 224.90 H511.5 V232.90 L510.10 229.50 H478.10 L476.7 232.90 Z"/></clipPath>
<path d="M476.7 224.90 H511.5 V232.90 L510.10 229.50 H478.10 L476.7 232.90 Z" fill="#505050" stroke="none" stroke-width="1" />
<g clip-path="url(#hc6)"><path d="M465.60 233.40 L474.60 224.40 M468.70 233.40 L477.70 224.40 M471.80 233.40 L480.80 224.40 M474.90 233.40 L483.90 224.40 M478.00 233.40 L487.00 224.40 M481.10 233.40 L490.10 224.40 M484.20 233.40 L493.20 224.40 M487.30 233.40 L496.30 224.40 M490.40 233.40 L499.40 224.40 M493.50 233.40 L502.50 224.40 M496.60 233.40 L505.60 224.40 M499.70 233.40 L508.70 224.40 M502.80 233.40 L511.80 224.40 M505.90 233.40 L514.90 224.40 M509.00 233.40 L518.00 224.40 M512.10 233.40 L521.10 224.40" stroke="#c4c4c4" stroke-width="0.8" fill="none"/></g>
<circle cx="477" cy="229.60" r="1.6" fill="#0000ee"/>
<clipPath id="hc7"><path d="M478.70 240.30 H510.30 A2 2 0 0 1 512.30 242.30 V246.90 A2 2 0 0 1 510.30 248.90 H478.70 A2 2 0 0 1 476.70 246.90 V242.30 A2 2 0 0 1 478.70 240.30 Z"/></clipPath>
<path d="M478.70 240.30 H510.30 A2 2 0 0 1 512.30 242.30 V246.90 A2 2 0 0 1 510.30 248.90 H478.70 A2 2 0 0 1 476.70 246.90 V242.30 A2 2 0 0 1 478.70 240.30 Z" fill="#fd9466" stroke="none" stroke-width="1" />
<g clip-path="url(#hc7)"><path d="M465.00 249.40 L474.60 239.80 M468.10 249.40 L477.70 239.80 M471.20 249.40 L480.80 239.80 M474.30 249.40 L483.90 239.80 M477.40 249.40 L487.00 239.80 M480.50 249.40 L490.10 239.80 M483.60 249.40 L493.20 239.80 M486.70 249.40 L496.30 239.80 M489.80 249.40 L499.40 239.80 M492.90 249.40 L502.50 239.80 M496.00 249.40 L505.60 239.80 M499.10 249.40 L508.70 239.80 M502.20 249.40 L511.80 239.80 M505.30 249.40 L514.90 239.80 M508.40 249.40 L518.00 239.80 M511.50 249.40 L521.10 239.80 M514.60 249.40 L524.20 239.80" stroke="#6e3019" stroke-width="1.1" fill="none"/></g>
<circle cx="477" cy="245.00" r="1.6" fill="#0000ee"/>
<line x1="476.40" y1="229.60" x2="476.40" y2="245.00" stroke="#3535f5" stroke-width="1.2" />
<path d="M511.9 255.4 L516.5 260.0 L511.9 264.6 L507.29999999999995 260.0 Z" fill="#8a8a8a" stroke="none" stroke-width="0" />
<text x="527.60" y="262.80" font-size="7" fill="#4a4f5a" font-weight="normal" text-anchor="start" >28.06.18</text>
<circle cx="512" cy="256.00" r="1.6" fill="#0000ee"/>
<path d="M512.3 270.5 H569.6 V278.5 L568.2 275.1 H513.6999999999999 L512.3 278.5 Z" fill="#5a5a5a" stroke="none" stroke-width="1" />
<rect x="512" y="285.90" width="53.20" height="8.8" rx="4.2" fill="#55905f"/>
<circle cx="512" cy="290.20" r="1.5" fill="#0000ee"/>
<line x1="565.20" y1="290.20" x2="569.60" y2="290.20" stroke="#3535f5" stroke-width="1" />
<rect x="512" y="301.10" width="31.10" height="8.8" rx="4.2" fill="#55905f"/>
<circle cx="512" cy="305.40" r="1.5" fill="#0000ee"/>
<line x1="543.10" y1="305.40" x2="569.60" y2="305.40" stroke="#3535f5" stroke-width="1" />
<rect x="512" y="316.30" width="31.10" height="8.8" rx="4.2" fill="#55905f"/>
<circle cx="512" cy="320.60" r="1.5" fill="#0000ee"/>
<line x1="543.10" y1="320.60" x2="569.60" y2="320.60" stroke="#3535f5" stroke-width="1" />
<rect x="512" y="331.50" width="42.10" height="8.8" rx="4.2" fill="#55905f"/>
<circle cx="512" cy="335.80" r="1.5" fill="#0000ee"/>
<line x1="512.00" y1="272.70" x2="512.00" y2="335.80" stroke="#3535f5" stroke-width="1.2" />
<line x1="554.50" y1="283.90" x2="554.50" y2="351.00" stroke="#3535f5" stroke-width="1.2" />
<line x1="569.60" y1="283.90" x2="569.60" y2="374.50" stroke="#3535f5" stroke-width="1.5" />
<path d="M554.3 347.4 L558.5 351.59999999999997 L554.3 355.79999999999995 L550.0999999999999 351.59999999999997 Z" fill="#5b9a68" stroke="none" stroke-width="0" />
<circle cx="554.4" cy="347.50" r="1.5" fill="#0000ee"/>
<text x="570.00" y="353.90" font-size="7" fill="#4a4f5a" font-weight="normal" text-anchor="start" >27.07.18</text>
<path d="M554.5 355.7 V362.4 H569.6" fill="none" stroke="#3535f5" stroke-width="1" />
<path d="M569.4 361.8 L574.3 366.7 L569.4 371.59999999999997 L564.5 366.7 Z" fill="#4e8a5a" stroke="#2e5f3a" stroke-width="0.8" />
<circle cx="569.6" cy="362.40" r="1.5" fill="#0000ee"/>
<text x="584.90" y="369.10" font-size="7" fill="#4a4f5a" font-weight="normal" text-anchor="start" >06.08.18</text>
<rect x="26.00" y="374.70" width="241.00" height="10.20" fill="#f0f0f0" />
<rect x="37.70" y="375.50" width="163.30" height="8.60" fill="#cdcdcd" />
<path d="M32.80 377.80 L30.40 379.70 L32.80 381.60" fill="none" stroke="#444" stroke-width="1.5" />
<path d="M260.10 377.80 L262.50 379.70 L260.10 381.60" fill="none" stroke="#444" stroke-width="1.5" />
<rect x="268.50" y="374.70" width="111.50" height="10.20" fill="#f0f0f0" />
<rect x="279.60" y="375.50" width="11.40" height="8.60" fill="#cdcdcd" />
<path d="M275.40 377.80 L273.00 379.70 L275.40 381.60" fill="none" stroke="#444" stroke-width="1.5" />
<path d="M372.40 377.80 L374.80 379.70 L372.40 381.60" fill="none" stroke="#444" stroke-width="1.5" />
<rect x="382.00" y="374.70" width="539.00" height="10.20" fill="#f0f0f0" />
<rect x="392.00" y="375.50" width="356.00" height="8.60" fill="#cdcdcd" />
<path d="M387.60 377.80 L385.20 379.70 L387.60 381.60" fill="none" stroke="#444" stroke-width="1.5" />
<path d="M915.20 377.80 L917.60 379.70 L915.20 381.60" fill="none" stroke="#444" stroke-width="1.5" />
<rect x="921.50" y="374.70" width="11.00" height="10.20" fill="#e9e3ea" />
<rect x="921.80" y="84.50" width="10.60" height="290.00" fill="#f0f0f0" />
<rect x="932.30" y="84.50" width="0.80" height="302.00" fill="#fafafa" />
<rect x="922.60" y="98.00" width="8.80" height="161.50" fill="#cdcdcd" />
<path d="M925.10 91.80 L927.00 89.40 L928.90 91.80" fill="none" stroke="#444" stroke-width="1.5" />
<path d="M925.10 368.10 L927.00 370.50 L928.90 368.10" fill="none" stroke="#444" stroke-width="1.5" />
<rect x="25.00" y="391.00" width="909.00" height="163.00" fill="#ffffff" />
<rect x="25.5" y="391.3" width="908.2" height="162.4" fill="none" stroke="#c8c8d0" stroke-width="1"/>
<rect x="26.00" y="391.80" width="907.50" height="16.20" fill="#eeeeee" />
<line x1="25.60" y1="408.00" x2="25.60" y2="553.50" stroke="#a2a2aa" stroke-width="1.2" />
<line x1="25.00" y1="553.80" x2="934.00" y2="553.80" stroke="#a9a9b2" stroke-width="1.2" />
<rect x="28.30" y="395.60" width="9.00" height="1.30" fill="#4a4a4a" />
<rect x="28.30" y="399.00" width="9.00" height="1.30" fill="#4a4a4a" />
<rect x="28.30" y="402.40" width="9.00" height="1.30" fill="#4a4a4a" />
<text x="41.90" y="403.90" font-size="8.6" fill="#555" font-weight="normal" text-anchor="start" textLength="52.50" lengthAdjust="spacingAndGlyphs" >Prozessstatus</text>
<rect x="913.4" y="396.6" width="3.9" height="3.9" fill="none" stroke="#3a3a3a" stroke-width="1"/>
<path d="M912 401 h6.6 M915.35 401 v3.2" fill="none" stroke="#3a3a3a" stroke-width="1.1" />
<path d="M923.4 396.7 L928.6 401.9 M928.6 396.7 L923.4 401.9" fill="none" stroke="#333" stroke-width="1.3" />
<text x="49.00" y="418.30" font-size="7.2" fill="#222" font-weight="normal" text-anchor="start" >Terminplan abstimmen</text>
<text x="195.00" y="418.30" font-size="7" fill="#222" font-weight="normal" text-anchor="start" >Rudolf Meyer</text>
<path d="M263.90 414.40 L265.80 417.00 L267.70 414.40" fill="none" stroke="#333" stroke-width="1.3" />
<rect x="317.3" y="412.50" width="7.6" height="8" fill="#e9e9e9" stroke="#d0d0d0" stroke-width="0.8"/>
<rect x="405.5" y="412.80" width="6.8" height="6.5" fill="none" stroke="#444" stroke-width="0.8"/>
<line x1="405.50" y1="414.30" x2="412.30" y2="414.30" stroke="#444" stroke-width="0.8" />
<path d="M407 411.7 v1.6 M410.8 411.7 v1.6" fill="none" stroke="#444" stroke-width="0.8" />
<text x="415.90" y="418.30" font-size="7" fill="#222" font-weight="normal" text-anchor="start" >erledigt</text>
<path d="M478.80 414.40 L480.70 417.00 L482.60 414.40" fill="none" stroke="#333" stroke-width="1.3" />
<rect x="512.5" y="412.50" width="8" height="8" fill="#fff" stroke="#555" stroke-width="0.8"/>
<rect x="676.50" y="409.80" width="9.50" height="13.80" fill="#f0f0f0" />
<path d="M679.2 415.7 L681.3 413.40000000000003 L683.4 415.7 M679.2 419.2 L681.3 421.5 L683.4 419.2" fill="none" stroke="#b4b4b4" stroke-width="0.85" />
<rect x="686.6" y="410.10" width="53" height="13.2" fill="#fff" stroke="#d6d6d6" stroke-width="0.8"/>
<line x1="47.00" y1="423.30" x2="676.50" y2="423.30" stroke="#e0e0e0" stroke-width="1" />
<text x="49.00" y="432.90" font-size="7.2" fill="#222" font-weight="normal" text-anchor="start" >Arbeitspakete beschreiben</text>
<text x="195.00" y="432.90" font-size="7" fill="#222" font-weight="normal" text-anchor="start" >Rudolf Meyer</text>
<path d="M263.90 429.00 L265.80 431.60 L267.70 429.00" fill="none" stroke="#333" stroke-width="1.3" />
<rect x="317.3" y="427.10" width="7.6" height="8" fill="#e9e9e9" stroke="#d0d0d0" stroke-width="0.8"/>
<rect x="405.5" y="427.40" width="6.8" height="6.5" fill="none" stroke="#444" stroke-width="0.8"/>
<line x1="405.50" y1="428.90" x2="412.30" y2="428.90" stroke="#444" stroke-width="0.8" />
<path d="M407 426.29999999999995 v1.6 M410.8 426.29999999999995 v1.6" fill="none" stroke="#444" stroke-width="0.8" />
<text x="415.90" y="432.90" font-size="7" fill="#222" font-weight="normal" text-anchor="start" >unvollständig</text>
<path d="M478.80 429.00 L480.70 431.60 L482.60 429.00" fill="none" stroke="#333" stroke-width="1.3" />
<rect x="512.5" y="427.10" width="8" height="8" fill="#fff" stroke="#555" stroke-width="0.8"/>
<rect x="676.50" y="423.90" width="9.50" height="13.80" fill="#f0f0f0" />
<path d="M679.2 429.8 L681.3 427.50000000000006 L683.4 429.8 M679.2 433.3 L681.3 435.6 L683.4 433.3" fill="none" stroke="#b4b4b4" stroke-width="0.85" />
<rect x="686.6" y="424.20" width="53" height="13.2" fill="#fff" stroke="#d6d6d6" stroke-width="0.8"/>
<line x1="47.00" y1="437.90" x2="676.50" y2="437.90" stroke="#e0e0e0" stroke-width="1" />
<text x="49.00" y="447.30" font-size="7.2" fill="#222" font-weight="normal" text-anchor="start" >Projektstrukturplan erstellen</text>
<text x="195.00" y="447.30" font-size="7" fill="#222" font-weight="normal" text-anchor="start" >Rudolf Meyer</text>
<path d="M263.90 443.40 L265.80 446.00 L267.70 443.40" fill="none" stroke="#333" stroke-width="1.3" />
<rect x="317.3" y="441.50" width="7.6" height="8" fill="#e9e9e9" stroke="#d0d0d0" stroke-width="0.8"/>
<rect x="405.5" y="441.80" width="6.8" height="6.5" fill="none" stroke="#444" stroke-width="0.8"/>
<line x1="405.50" y1="443.30" x2="412.30" y2="443.30" stroke="#444" stroke-width="0.8" />
<path d="M407 440.7 v1.6 M410.8 440.7 v1.6" fill="none" stroke="#444" stroke-width="0.8" />
<text x="415.90" y="447.30" font-size="7" fill="#222" font-weight="normal" text-anchor="start" >offen</text>
<path d="M478.80 443.40 L480.70 446.00 L482.60 443.40" fill="none" stroke="#333" stroke-width="1.3" />
<rect x="512.5" y="441.50" width="8" height="8" fill="#fff" stroke="#555" stroke-width="0.8"/>
<rect x="676.50" y="438.00" width="9.50" height="13.80" fill="#f0f0f0" />
<path d="M679.2 443.9 L681.3 441.6 L683.4 443.9 M679.2 447.4 L681.3 449.7 L683.4 447.4" fill="none" stroke="#b4b4b4" stroke-width="0.85" />
<rect x="686.6" y="438.30" width="53" height="13.2" fill="#fff" stroke="#d6d6d6" stroke-width="0.8"/>
<text x="204.50" y="466.80" font-size="7" fill="#6e6e6e" font-weight="normal" text-anchor="start" >Ressource</text>
<text x="283.10" y="466.80" font-size="7" fill="#6e6e6e" font-weight="normal" text-anchor="start" >Termin</text>
<text x="326.00" y="466.80" font-size="7" fill="#6e6e6e" font-weight="normal" text-anchor="start" >Status</text>
<text x="458.30" y="466.80" font-size="7" fill="#6e6e6e" font-weight="normal" text-anchor="start" >Kommentar</text>
<text x="598.50" y="466.80" font-size="7" fill="#6e6e6e" font-weight="normal" text-anchor="start" >Datei</text>
<text x="50.30" y="466.80" font-size="7" fill="#6e6e6e" font-weight="normal" text-anchor="start" textLength="87.70" lengthAdjust="spacingAndGlyphs" >Prozessschritt-Bezeichnung</text>
<text x="49.00" y="479.40" font-size="7" fill="#2a64b8" font-weight="bold" text-anchor="start" textLength="23.00" lengthAdjust="spacingAndGlyphs" >Abgabe</text>
<text x="203.00" y="479.40" font-size="7" fill="#222" font-weight="normal" text-anchor="start" >Rudolf Meyer</text>
<path d="M271.80 475.50 L273.70 478.10 L275.60 475.50" fill="none" stroke="#333" stroke-width="1.3" />
<text x="282.20" y="479.40" font-size="7" fill="#222" font-weight="normal" text-anchor="start" >28.06.18</text>
<line x1="47.00" y1="484.60" x2="585.00" y2="484.60" stroke="#e0e0e0" stroke-width="1" />
<text x="40.00" y="493.50" font-size="7" fill="#6e6e6e" font-weight="normal" text-anchor="start" textLength="59.60" lengthAdjust="spacingAndGlyphs" >Mastermeilenstein</text>
<text x="138.00" y="493.50" font-size="7" fill="#6e6e6e" font-weight="normal" text-anchor="start" textLength="50.80" lengthAdjust="spacingAndGlyphs" >Sammelvorgang</text>
<text x="49.00" y="506.00" font-size="7" fill="#2a64b8" font-weight="bold" text-anchor="start" textLength="53.00" lengthAdjust="spacingAndGlyphs" >Freigabe erteilen</text>
<text x="203.00" y="506.00" font-size="7" fill="#222" font-weight="normal" text-anchor="start" >Wera Heine</text>
<path d="M271.80 502.10 L273.70 504.70 L275.60 502.10" fill="none" stroke="#333" stroke-width="1.3" />
<text x="282.20" y="506.00" font-size="7" fill="#222" font-weight="normal" text-anchor="start" >09.07.18</text>
<rect x="314.3" y="473.90" width="6.8" height="6.5" fill="none" stroke="#444" stroke-width="0.8"/>
<line x1="314.30" y1="475.40" x2="321.10" y2="475.40" stroke="#444" stroke-width="0.8" />
<path d="M315.8 472.79999999999995 v1.6 M319.6 472.79999999999995 v1.6" fill="none" stroke="#444" stroke-width="0.8" />
<text x="324.70" y="479.40" font-size="7" fill="#222" font-weight="normal" text-anchor="start" >offen</text>
<rect x="314.3" y="500.50" width="6.8" height="6.5" fill="none" stroke="#444" stroke-width="0.8"/>
<line x1="314.30" y1="502.00" x2="321.10" y2="502.00" stroke="#444" stroke-width="0.8" />
<path d="M315.8 499.4 v1.6 M319.6 499.4 v1.6" fill="none" stroke="#444" stroke-width="0.8" />
<text x="324.70" y="506.00" font-size="7" fill="#222" font-weight="normal" text-anchor="start" >offen</text>
<rect x="585.30" y="471.00" width="9.70" height="13.50" fill="#f0f0f0" />
<path d="M588 476.9 L590.1 474.6 L592.2 476.9 M588 480.4 L590.1 482.7 L592.2 480.4" fill="none" stroke="#b4b4b4" stroke-width="0.85" />
<rect x="595.3" y="471.30" width="53" height="13.2" fill="#fff" stroke="#d6d6d6" stroke-width="0.8"/>
<rect x="585.30" y="497.60" width="9.70" height="13.50" fill="#f0f0f0" />
<path d="M588 503.5 L590.1 501.20000000000005 L592.2 503.5 M588 507.0 L590.1 509.3 L592.2 507.0" fill="none" stroke="#b4b4b4" stroke-width="0.85" />
<rect x="595.3" y="497.90" width="53" height="13.2" fill="#fff" stroke="#d6d6d6" stroke-width="0.8"/>
<rect x="648.6" y="497.6" width="96.6" height="13.3" fill="#fff" stroke="#d6d6d6" stroke-width="0.8"/>
<rect x="745.3" y="497.6" width="78" height="13.3" fill="#fff" stroke="#d6d6d6" stroke-width="0.8"/>
<text x="650.00" y="507.00" font-size="7" fill="#222" font-weight="normal" text-anchor="start" >G3 Feinkonzept abgesch...</text>
<path d="M738.10 502.90 L740.00 505.50 L741.90 502.90" fill="none" stroke="#333" stroke-width="1.3" />
<text x="747.00" y="507.00" font-size="7" fill="#222" font-weight="normal" text-anchor="start" >Realisierung</text>
<path d="M815.10 502.90 L817.00 505.50 L818.90 502.90" fill="none" stroke="#333" stroke-width="1.3" />
<rect x="922.00" y="408.40" width="11.00" height="145.00" fill="#f0f0f0" />
<rect x="923.50" y="475.00" width="8.00" height="33.20" fill="#cdcdcd" />
<path d="M925.40 417.00 L927.30 414.60 L929.20 417.00" fill="none" stroke="#444" stroke-width="1.5" />
<path d="M925.40 546.40 L927.30 548.80 L929.20 546.40" fill="none" stroke="#444" stroke-width="1.5" />
<path d="M27.0 528.1 H105.7 L124.9 540.2 L105.7 552.3 H27.0 L43.5 540.2 Z" fill="#c6dbfa" stroke="none" stroke-width="1" />
<path d="M116.6 528.1 H181.7 L200.3 540.2 L181.7 552.3 H116.6 L133.8 540.2 Z" fill="#c6dbfa" stroke="none" stroke-width="1" />
<path d="M192.2 528.1 H255.3 L273.8 540.2 L255.3 552.3 H192.2 L209.2 540.2 Z" fill="#1f8ee0" stroke="none" stroke-width="1" />
<path d="M266.2 528.1 H335.1 L353.7 540.2 L335.1 552.3 H266.2 L282.8 540.2 Z" fill="#c6dbfa" stroke="none" stroke-width="1" />
<path d="M345.3 528.1 H413.7 L432.2 540.2 L413.7 552.3 H345.3 L361.9 540.2 Z" fill="#c6dbfa" stroke="none" stroke-width="1" />
<text x="51.10" y="544.30" font-size="10.2" fill="#7d7d85" font-weight="normal" text-anchor="start" textLength="50.20" lengthAdjust="spacingAndGlyphs" >Initialisierung</text>
<text x="140.90" y="544.30" font-size="10.2" fill="#7d7d85" font-weight="normal" text-anchor="start" textLength="35.70" lengthAdjust="spacingAndGlyphs" >Definition</text>
<text x="216.80" y="544.30" font-size="10.2" fill="#ffffff" font-weight="bold" text-anchor="start" textLength="33.70" lengthAdjust="spacingAndGlyphs" >Planung</text>
<text x="289.80" y="544.30" font-size="10.2" fill="#1e1e24" font-weight="normal" text-anchor="start" textLength="39.60" lengthAdjust="spacingAndGlyphs" >Steuerung</text>
<text x="369.00" y="544.30" font-size="10.2" fill="#1e1e24" font-weight="normal" text-anchor="start" textLength="39.20" lengthAdjust="spacingAndGlyphs" >Abschluss</text>
<rect x="931.70" y="560.00" width="1.10" height="1.10" fill="#888" />
<rect x="929.30" y="562.50" width="1.10" height="1.10" fill="#888" />
<rect x="931.70" y="562.50" width="1.10" height="1.10" fill="#888" />
<rect x="926.90" y="565.00" width="1.10" height="1.10" fill="#888" />
<rect x="929.30" y="565.00" width="1.10" height="1.10" fill="#888" />
<rect x="931.70" y="565.00" width="1.10" height="1.10" fill="#888" />
</svg>
</body></html>
